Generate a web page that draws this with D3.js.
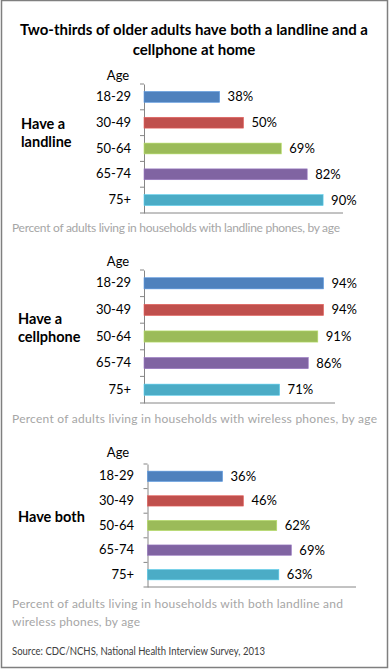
<!DOCTYPE html>
<html>
<head>
<meta charset="utf-8">
<script src="https://cdn.jsdelivr.net/npm/d3@7"></script>
<style>
  html, body { margin: 0; padding: 0; background: #fff; }
  svg { display: block; }
  text { font-family: Lato, "Open Sans", sans-serif; }
</style>
</head>
<body>
<svg id="chart" width="391" height="671"></svg>
<script>
// ---- data ----
const chartTitle = ["Two-thirds of older adults have both a landline and a", "cellphone at home"];
const ageGroups = ["18-29", "30-49", "50-64", "65-74", "75+"];
const ageColors = ["#4f81bd", "#c0504d", "#9bbb59", "#8064a2", "#4bacc6"];
const landlineValues = [38, 50, 69, 82, 90];
const cellphoneValues = [94, 94, 91, 86, 71];
const bothValues = [36, 46, 62, 69, 63];
const panelLabels = [["Have a", "landline"], ["Have a", "cellphone"], ["Have both"]];
const panelNotes = [
  ["Percent of adults living in households with landline phones, by age"],
  ["Percent of adults living in households with wireless phones, by age"],
  ["Percent of adults living in households with both landline and", "wireless phones, by age"]
];
const sourceText = "Source: CDC/NCHS, National Health Interview Survey, 2013";
const axisLabel = "Age";

// ---- layout ----
const svg = d3.select("#chart");
svg.append("rect").attr("x", 1.5).attr("y", 0.5).attr("width", 386).attr("height", 667)
  .attr("fill", "#fff").attr("stroke", "#7f7f7f").attr("stroke-width", 1.5);

svg.append("g").selectAll("text").data(chartTitle).join("text")
  .attr("x", 194).attr("y", (d, i) => 30 + i * 20).attr("dy", "0.35em")
  .attr("text-anchor", "middle").attr("font-weight", "bold").attr("font-size", 15)
  .attr("fill", "#000").text(d => d);

const panels = [
  { values: landlineValues, x0: 144, x1: 343, y0: 84, y1: 213, ageY: 75, catX: 131,
    labelX: 21, labelY: 124, noteY: 228, noteW: [328] },
  { values: cellphoneValues, x0: 144, x1: 335, y0: 270, y1: 403, ageY: 261, catX: 131,
    labelX: 18, labelY: 319, noteY: 419, noteW: [365] },
  { values: bothValues, x0: 147.5, x1: 356, y0: 464, y1: 587, ageY: 452, catX: 134,
    labelX: 18, labelY: 517, noteY: 604, noteW: [331, 128] }
];

panels.forEach((p, pi) => {
  const g = svg.append("g");
  const x = d3.scaleLinear().domain([0, 100]).range([p.x0, p.x1]);
  const y = d3.scaleBand().domain(ageGroups).range([p.y0, p.y1])
    .paddingInner(0.58).paddingOuter(0.29);
  const step = y.step();
  const gap = (step - y.bandwidth()) / 2;

  // axis
  const axis = d3.axisLeft(y).tickSize(0).tickPadding(p.x0 - p.catX);
  const ag = g.append("g").attr("transform", `translate(${p.x0},0)`).call(axis);
  ag.select(".domain").attr("stroke", "#868686");
  ag.selectAll(".tick text").attr("font-size", 13).attr("fill", "#000");
  // boundary tick marks
  const bounds = ageGroups.map(a => y(a) - gap).concat([p.y1]);
  g.selectAll("line.tk").data(bounds).join("line")
    .attr("x1", p.x0 - 4).attr("x2", p.x0).attr("y1", d => d).attr("y2", d => d)
    .attr("stroke", "#868686");
  // bottom axis
  g.append("line").attr("x1", p.x0).attr("x2", p.x1).attr("y1", p.y1).attr("y2", p.y1)
    .attr("stroke", "#868686");

  // bars
  g.selectAll("rect.bar").data(p.values).join("rect")
    .attr("x", x(0)).attr("y", (d, i) => y(ageGroups[i]))
    .attr("width", d => x(d) - x(0)).attr("height", y.bandwidth())
    .attr("fill", (d, i) => ageColors[i])
    .attr("stroke", (d, i) => d3.color(ageColors[i]).brighter(0.5))
    .attr("stroke-width", 0.6);

  // value labels
  g.selectAll("text.val").data(p.values).join("text")
    .attr("x", d => x(d) + 8).attr("y", (d, i) => y(ageGroups[i]) + y.bandwidth() / 2)
    .attr("dy", "0.35em").attr("font-size", 13).attr("fill", "#000")
    .text(d => d + "%");

  // "Age"
  g.append("text").attr("x", 118).attr("y", p.ageY).attr("dy", "0.35em")
    .attr("text-anchor", "middle").attr("font-size", 13).attr("fill", "#000").text(axisLabel);

  // panel label
  g.selectAll("text.pl").data(panelLabels[pi]).join("text")
    .attr("x", p.labelX).attr("y", (d, i) => p.labelY + i * 18).attr("dy", "0.35em")
    .attr("font-weight", "bold").attr("font-size", 14.5).attr("fill", "#000").text(d => d);

  // note
  g.selectAll("text.note").data(panelNotes[pi]).join("text")
    .attr("x", 12).attr("y", (d, i) => p.noteY + i * 18).attr("dy", "0.35em")
    .attr("font-size", 12).attr("fill", "#a6a6a6")
    .attr("textLength", (d, i) => p.noteW[i]).attr("lengthAdjust", "spacing")
    .text(d => d);
});

svg.append("text").attr("x", 12).attr("y", 651.5).attr("dy", "0.35em")
  .attr("font-size", 10.5).attr("fill", "#404040")
  .attr("textLength", 253).attr("lengthAdjust", "spacingAndGlyphs")
  .text(sourceText);
</script>
</body>
</html>
